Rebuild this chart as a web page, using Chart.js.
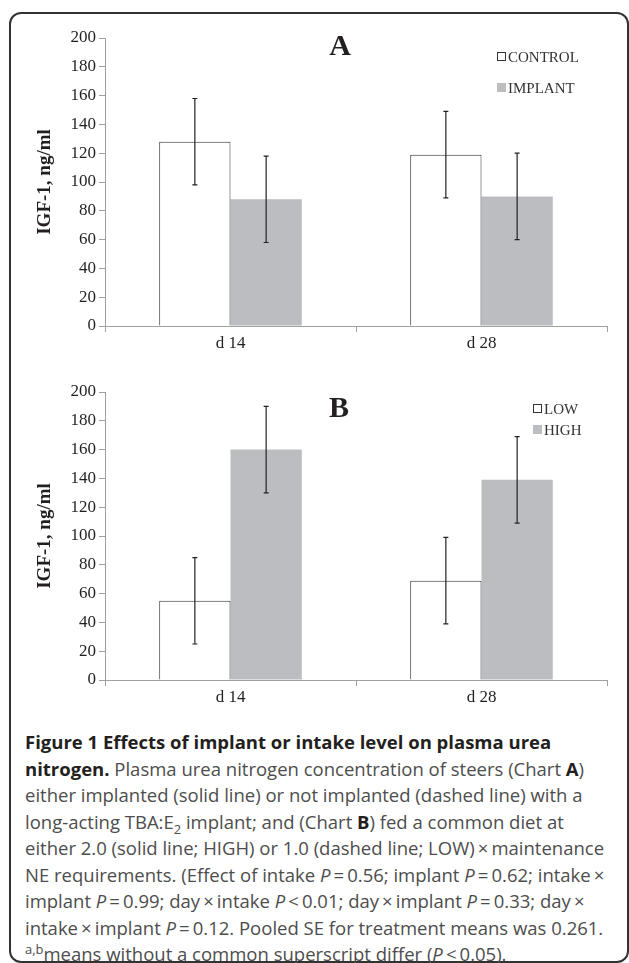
<!DOCTYPE html>
<html>
<head>
<meta charset="utf-8">
<script src="https://cdn.jsdelivr.net/npm/chart.js@4.4.0/dist/chart.umd.min.js"></script>
<style>
    body { margin: 0; background: #fff; width: 629px; height: 963px; overflow: hidden; position: relative; }
    #frame { position: absolute; left: 9px; top: 12px; width: 620px; height: 951px; border: 2px solid #333; border-radius: 12px; box-sizing: border-box; }
    #chartA { position: absolute; left: 0; top: 0; }
    #chartB { position: absolute; left: 0; top: 340px; }
    #caption { position: absolute; left: 25px; top: 729px; font-family: 'Open Sans', sans-serif; font-size: 18.5px; line-height: 26.5px; color: #4d4d4d; white-space: nowrap; }
    #caption b { color: #231f20; }
    #caption sub, #caption sup { font-size: 0.7em; line-height: 0; }
</style>
</head>
<body>
<div id="frame"></div>
<canvas id="chartA" width="629" height="360"></canvas>
<canvas id="chartB" width="629" height="370"></canvas>
<div id="caption">
<b>Figure 1 Effects of implant or intake level on plasma urea</b><br>
<b>nitrogen.</b> Plasma urea nitrogen concentration of steers (Chart <b>A</b>)<br>
either implanted (solid line) or not implanted (dashed line) with a<br>
long-acting TBA:E<sub>2</sub> implant; and (Chart <b>B</b>) fed a common diet at<br>
either 2.0 (solid line; HIGH) or 1.0 (dashed line; LOW)&thinsp;×&thinsp;maintenance<br>
NE requirements. (Effect of intake <i>P</i>&thinsp;=&thinsp;0.56; implant <i>P</i>&thinsp;=&thinsp;0.62; intake&thinsp;×<br>
implant <i>P</i>&thinsp;=&thinsp;0.99; day&thinsp;×&thinsp;intake <i>P</i>&thinsp;&lt;&thinsp;0.01; day&thinsp;×&thinsp;implant <i>P</i>&thinsp;=&thinsp;0.33; day&thinsp;×<br>
intake&thinsp;×&thinsp;implant <i>P</i>&thinsp;=&thinsp;0.12. Pooled SE for treatment means was 0.261.<br>
<sup>a,b</sup>means without a common superscript differ (<i>P</i>&thinsp;&lt;&thinsp;0.05).
</div>
<script>
// ---- data ----
const days = ['d 14', 'd 28'];

// chart A: implant
const controlMeans = [128, 119];
const controlErr = [30, 30];
const implantMeans = [88, 90];
const implantErr = [30, 30];

// chart B: intake level
const lowMeans = [55, 69];
const lowErr = [30, 30];
const highMeans = [160, 139];
const highErr = [30, 30];

const yMin = 0;
const yMax = 200;
const yStep = 20;

// ---- styles ----
const serif = 'Liberation Serif';
const textColor = '#231f20';
const axisColor = '#a0a0a0';
const barGray = '#bcbdc0';

// error bars, panel letter and legend are drawn by this plugin
function panelPlugin(cfg) {
    return {
        id: 'panel',
        afterDatasetsDraw(chart) {
            const ctx = chart.ctx;
            const y = chart.scales.y;
            ctx.save();
            ctx.strokeStyle = '#222';
            ctx.lineWidth = 1.2;
            chart.data.datasets.forEach(function(ds, i) {
                const meta = chart.getDatasetMeta(i);
                meta.data.forEach(function(bar, j) {
                    const v = ds.data[j];
                    const e = ds.errors[j];
                    const top = y.getPixelForValue(v + e);
                    const bot = y.getPixelForValue(v - e);
                    ctx.beginPath();
                    ctx.moveTo(bar.x, top);
                    ctx.lineTo(bar.x, bot);
                    ctx.moveTo(bar.x - 2.5, top);
                    ctx.lineTo(bar.x + 2.5, top);
                    ctx.moveTo(bar.x - 2.5, bot);
                    ctx.lineTo(bar.x + 2.5, bot);
                    ctx.stroke();
                });
            });
            ctx.restore();
        },
        afterDraw(chart) {
            const ctx = chart.ctx;
            ctx.save();
            // panel letter
            ctx.fillStyle = textColor;
            ctx.font = 'bold 30px "' + serif + '"';
            ctx.textAlign = 'center';
            ctx.textBaseline = 'middle';
            ctx.fillText(cfg.letter, cfg.letterX, cfg.letterY);

            // legend
            ctx.font = '15px "' + serif + '"';
            ctx.textAlign = 'left';
            chart.data.datasets.forEach(function(ds, i) {
                const ly = cfg.legendY + i * cfg.legendGap;
                if (ds.backgroundColor === '#ffffff') {
                    ctx.strokeStyle = '#333';
                    ctx.lineWidth = 1;
                    ctx.strokeRect(cfg.legendX + 0.5, ly - 4.5, 8, 8);
                } else {
                    ctx.fillStyle = ds.backgroundColor;
                    ctx.fillRect(cfg.legendX, ly - 5, 9, 9);
                }
                ctx.fillStyle = '#333';
                ctx.fillText(ds.label, cfg.legendX + 11, ly + 1);
            });
            ctx.restore();
        }
    };
}

function makeChart(id, series, cfg) {
    const ctx = document.getElementById(id).getContext('2d');
    const datasets = series.map(function(s) {
        return {
            label: s.label,
            data: s.data,
            errors: s.errors,
            backgroundColor: s.fill,
            borderColor: s.border,
            borderWidth: s.border ? 1 : 0,
            categoryPercentage: 0.568,
            barPercentage: 1.0
        };
    });

    return new Chart(ctx, {
        type: 'bar',
        data: { labels: days, datasets: datasets },
        options: {
            responsive: false,
            animation: false,
            devicePixelRatio: 1,
            layout: { padding: { left: 34, top: cfg.padTop, right: 22, bottom: 0 } },
            plugins: {
                legend: { display: false },
                tooltip: { enabled: false }
            },
            scales: {
                x: {
                    offset: true,
                    grid: { display: true, offset: true, drawOnChartArea: false, drawTicks: true, tickLength: 6, color: axisColor },
                    border: { display: true, color: axisColor },
                    ticks: { font: { family: serif, size: 17 }, color: textColor, padding: 1 },
                    afterFit: function(s) { s.height = cfg.xHeight; }
                },
                y: {
                    min: yMin,
                    max: yMax,
                    ticks: { stepSize: yStep, font: { family: serif, size: 17 }, color: textColor, padding: 3 },
                    grid: { drawOnChartArea: false, drawTicks: true, tickLength: 6, color: axisColor },
                    border: { display: true, color: axisColor },
                    title: {
                        display: true,
                        text: 'IGF-1, ng/ml',
                        font: { family: serif, size: 19, weight: 'bold' },
                        color: textColor,
                        padding: 0
                    },
                    afterFit: function(s) { s.width = 71; }
                }
            }
        },
        plugins: [panelPlugin(cfg)]
    });
}

makeChart('chartA', [
    { label: 'CONTROL', data: controlMeans, errors: controlErr, fill: '#ffffff', border: '#333' },
    { label: 'IMPLANT', data: implantMeans, errors: implantErr, fill: barGray, border: null }
], { padTop: 38, xHeight: 34, letter: 'A', letterX: 340, letterY: 47, legendX: 497, legendY: 57, legendGap: 31 });

makeChart('chartB', [
    { label: 'LOW', data: lowMeans, errors: lowErr, fill: '#ffffff', border: '#333' },
    { label: 'HIGH', data: highMeans, errors: highErr, fill: barGray, border: null }
], { padTop: 52, xHeight: 30, letter: 'B', letterX: 339, letterY: 69, legendX: 533, legendY: 69, legendGap: 21 });
</script>
</body>
</html>
